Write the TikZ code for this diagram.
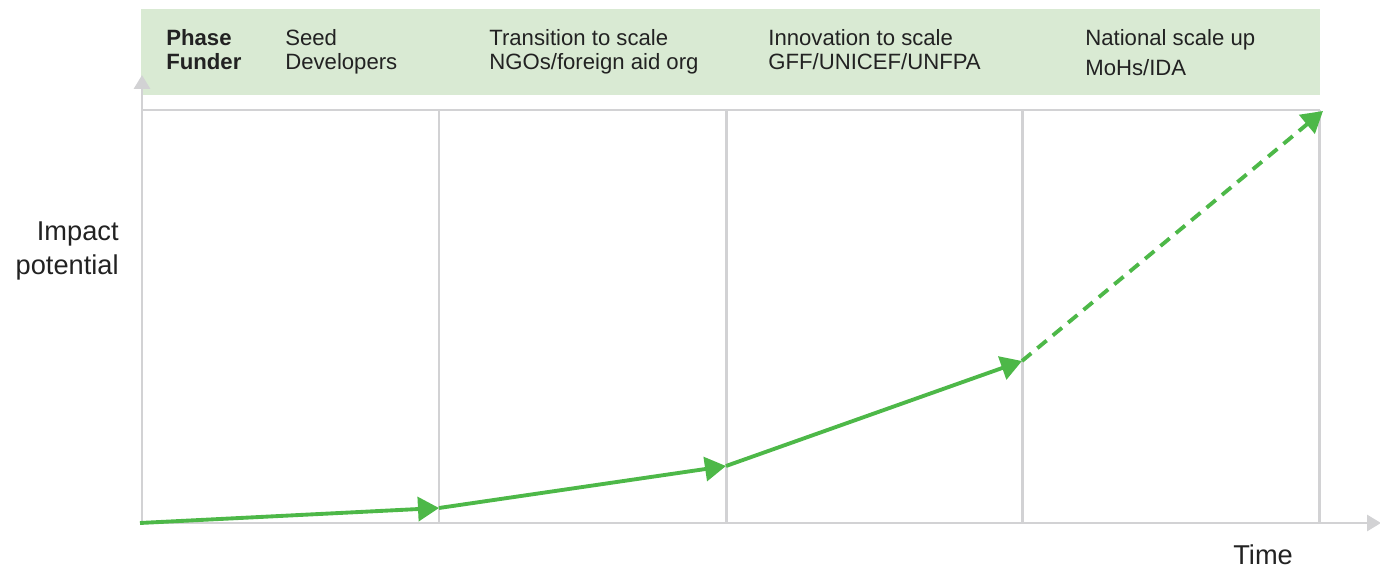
\documentclass[tikz,border=0pt]{standalone}
\usepackage{fontspec}
\setmainfont{Liberation Sans}
\usetikzlibrary{arrows.meta}
\definecolor{bandgreen}{HTML}{D9EAD3}
\definecolor{linegreen}{HTML}{4DB848}
\definecolor{axisgrey}{HTML}{D2D2D4}
\definecolor{textgrey}{HTML}{222222}
\tikzset{
    axisline/.style={draw=axisgrey,line width=1.7pt},
    axisarrow/.style={axisline,-{Triangle[length=0.28cm,width=0.32cm]}},
    growth/.style={draw=linegreen,line width=2.2pt,-{Triangle[length=0.42cm,width=0.48cm]}},
    headtext/.style={anchor=base west,inner sep=0pt,text=textgrey,font=\fontsize{12.6}{14}\selectfont},
    bigtext/.style={inner sep=0pt,text=textgrey,font=\fontsize{15.5}{18}\selectfont}
}

\begin{document}
\begin{tikzpicture}[x=0.02cm,y=-0.02cm]
                \useasboundingbox (0,0) rectangle (1380,570);
                \fill[bandgreen] (141,9) rectangle (1320,95);
                \coordinate (origin) at (142,523);
                \coordinate (ytip) at (142,75);
                \coordinate (xtip) at (1381,523);
                \coordinate (topleft) at (142,110);
                \coordinate (topright) at (1320,110);
                \foreach \x/\name in {439/a,726/b,1022/c,1319/d}
                {
                    \coordinate (\name top) at (\x,110);
                    \coordinate (\name bot) at (\x,523);
                    \draw[axisline] (\name top) -- (\name bot);
                }
                \draw[axisline] (topleft) -- (topright);
                \draw[axisarrow] (origin) -- (ytip);
                \draw[axisarrow] (origin) -- (xtip);
                \node[headtext,font=\bfseries\fontsize{12.6}{14}\selectfont] (phase) at (166,46) {Phase};
                \node[headtext,font=\bfseries\fontsize{12.6}{14}\selectfont] (funder) at (166,70) {Funder};
                \node[headtext] (seed) at (285,46) {Seed};
                \node[headtext] (developers) at (285,70) {Developers};
                \node[headtext] (transition) at (489,46) {Transition to scale};
                \node[headtext] (ngos) at (489,70) {NGOs/foreign aid org};
                \node[headtext] (innovation) at (768,46) {Innovation to scale};
                \node[headtext] (gff) at (768,70) {GFF/UNICEF/UNFPA};
                \node[headtext] (national) at (1085,46) {National scale up};
                \node[headtext] (mohs) at (1085,76) {MoHs/IDA};
                \node[bigtext,anchor=base east] (impact) at (119,241) {Impact};
                \node[bigtext,anchor=base east] (potential) at (119,275) {potential};
                \node[bigtext,anchor=base west] (time) at (1233,565) {Time};
                \coordinate (p0) at (140,523);
                \coordinate (p1) at (439,508);
                \coordinate (p2) at (726,466);
                \coordinate (p3) at (1022,361);
                \coordinate (p4) at (1323,111);
                \draw[growth] (p0) -- (p1);
                \draw[growth] (p1) -- (p2);
                \draw[growth] (p2) -- (p3);
                \draw[growth,dash pattern=on 0.24cm off 0.16cm] (p3) -- (p4);
            \end{tikzpicture}
\end{document}
